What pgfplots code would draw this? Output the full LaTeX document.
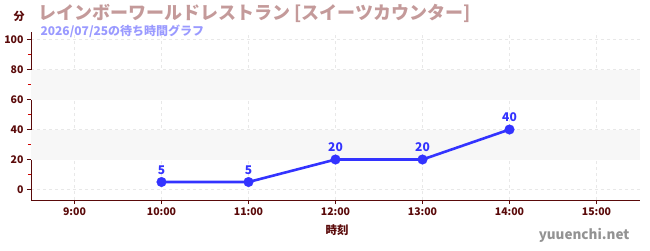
\documentclass[border=0pt]{standalone}
\usepackage{fontspec}
\setmainfont{Noto Sans CJK JP}
\usepackage{pgfplots}
\pgfplotsset{compat=1.18}
\definecolor{axc}{HTML}{5A0A0A}
\definecolor{titc}{HTML}{C49A9A}
\definecolor{subc}{HTML}{9A9AFF}
\definecolor{linec}{HTML}{3333FF}
\definecolor{bandc}{HTML}{F7F7F7}
\definecolor{gridc}{HTML}{E8E8E8}
\begin{document}
\begin{tikzpicture}
\path[use as bounding box] (0,0) rectangle (650pt,250pt);
\begin{axis}[
  at={(31pt,50pt)}, anchor=south west,
  width=609pt, height=168pt, scale only axis,
  xmin=8.5, xmax=15.5, ymin=-7, ymax=105,
  axis x line*=bottom, axis y line*=left,
  axis line style={axc, line width=0.8pt, -},
  xtick={9,10,11,12,13,14,15},
  xticklabels={9:00,10:00,11:00,12:00,13:00,14:00,15:00},
  ytick={0,20,40,60,80,100},
  minor ytick={10,30,50,70,90},
  tick align=outside,
  major tick length=4pt, minor tick length=3pt,
  tick style={axc, line width=0.6pt},
  minor tick style={red!80!black, line width=0.6pt},
  grid=major,
  major grid style={gridc, dashed, line width=0.5pt},
  ticklabel style={font=\fontsize{10.5}{11}\selectfont\bfseries, text=axc},
  /pgf/number format/assume math mode=true,
  clip=false,
]
\fill[bandc] (axis cs:8.5,20) rectangle (axis cs:15.5,40);
\fill[bandc] (axis cs:8.5,60) rectangle (axis cs:15.5,80);
\addplot[linec, line width=2.6pt, mark=*, mark size=4.8pt,
  mark options={solid, fill=linec, draw=linec, line width=0.4pt},
  nodes near coords,
  every node near coord/.append style={font=\fontsize{12}{13}\selectfont\bfseries, text=linec, yshift=4pt}]
  coordinates {(10,5) (11,5) (12,20) (13,20) (14,40)};
\end{axis}
\node[anchor=center, font=\fontsize{11}{12}\selectfont\bfseries, text=axc] at (19pt,234pt) {分};
\node[anchor=west, font=\fontsize{18}{20}\selectfont\bfseries, text=titc] at (35pt,237pt) {レインボーワールドレストラン [スイーツカウンター]};
\node[anchor=west, font=\fontsize{12}{13}\selectfont\bfseries, text=subc] at (37pt,219pt) {2026/07/25の待ち時間グラフ};
\node[anchor=center, font=\fontsize{11.5}{13}\selectfont\bfseries, text=axc] at (337pt,20pt) {時刻};
\node[anchor=east, font=\fontsize{13.5}{15}\selectfont\bfseries, text=gray!85] at (633pt,15pt) {yuuenchi.net};
\end{tikzpicture}
\end{document}
